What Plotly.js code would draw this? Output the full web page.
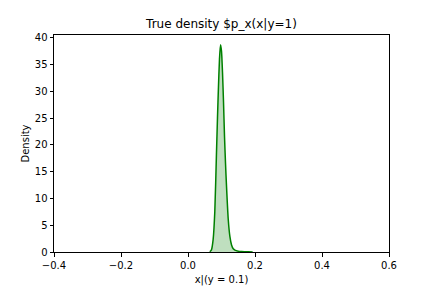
<!DOCTYPE html>
<html>
<head>
<meta charset="utf-8">
<script src="https://cdn.plot.ly/plotly-3.0.1.min.js"></script>
<style>html,body{margin:0;padding:0;background:#fff;}#chart{width:432px;height:288px;}</style>
</head>
<body>
<div id="chart"></div>
<script>
// Estimated KDE of x | (y = 0.1)
const xValues = [0.065, 0.070, 0.075, 0.080, 0.085, 0.088, 0.091, 0.094, 0.097, 0.100, 0.103, 0.106, 0.109, 0.112, 0.115, 0.120, 0.125, 0.130, 0.135, 0.140, 0.150, 0.160, 0.170, 0.180, 0.193];
const densityValues = [0.05, 0.4, 2.3, 7.5, 18.5, 25.0, 31.0, 36.0, 38.7, 37.5, 33.5, 28.0, 21.5, 16.5, 12.2, 6.2, 2.9, 1.3, 0.6, 0.35, 0.15, 0.08, 0.05, 0.03, 0.01];
const xTickVals = [-0.4, -0.2, 0.0, 0.2, 0.4, 0.6];
const xTickText = ["\u22120.4", "\u22120.2", "0.0", "0.2", "0.4", "0.6"];
const yTickVals = [0, 5, 10, 15, 20, 25, 30, 35, 40];
const yTickText = ["0", "5", "10", "15", "20", "25", "30", "35", "40"];

const font = {family: "DejaVu Sans", size: 10, color: "#000"};

const trace = {
  x: xValues,
  y: densityValues,
  type: "scatter",
  mode: "lines",
  line: {color: "#008000", width: 1.5, shape: "spline", smoothing: 0.6},
  fill: "tozeroy",
  fillcolor: "rgba(0,128,0,0.25)",
  hoverinfo: "skip"
};

const axisCommon = {
  showline: true, linecolor: "#000", linewidth: 1, mirror: true,
  ticks: "outside", ticklen: 3.5, tickwidth: 1, tickcolor: "#000",
  showgrid: false, zeroline: false, tickfont: font
};

const layout = {
  width: 432, height: 288,
  margin: {l: 54, r: 43, t: 35, b: 36},
  paper_bgcolor: "#fff", plot_bgcolor: "#fff",
  font: font,
  showlegend: false,
  title: {text: "True density $p_x(x|y=1)", font: {family: "DejaVu Sans", size: 12, color: "#000"},
          x: 0.5, xref: "paper", xanchor: "center", y: 1 - 24/288, yref: "container", yanchor: "middle"},
  xaxis: Object.assign({}, axisCommon, {
    range: [-0.4, 0.6], tickvals: xTickVals, ticktext: xTickText,
    title: {text: "x|(y = 0.1)", font: font, standoff: 6}
  }),
  yaxis: Object.assign({}, axisCommon, {
    range: [0, 40.5], tickvals: yTickVals, ticktext: yTickText,
    title: {text: "Density", font: font, standoff: 3}
  })
};

Plotly.newPlot("chart", [trace], layout, {staticPlot: true, displayModeBar: false});
</script>
</body>
</html>
